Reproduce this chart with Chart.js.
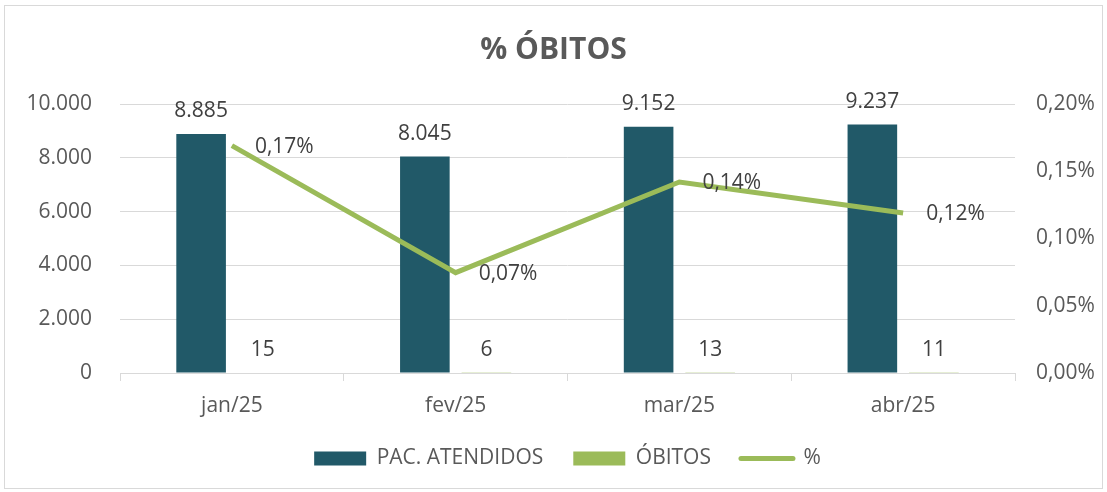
<!DOCTYPE html>
<html>
<head>
<meta charset="utf-8">
<script src="https://cdn.jsdelivr.net/npm/chart.js@4.4.1/dist/chart.umd.min.js"></script>
<style>
  body { margin: 0; background: #fff; }
  #wrap { position: relative; width: 1107px; height: 492px; }
  #frame { position: absolute; left: 4px; top: 5px; width: 1097px; height: 482px; border: 1px solid #d9d9d9; pointer-events: none; }
</style>
</head>
<body>
<div id="wrap">
  <canvas id="chart" width="1107" height="492"></canvas>
  <div id="frame"></div>
</div>
<script>
const categories = ['jan/25', 'fev/25', 'mar/25', 'abr/25'];
const atendidos = [8885, 8045, 9152, 9237];
const obitos = [15, 6, 13, 11];
const percentual = [0.169, 0.0746, 0.142, 0.119];

const fontFamily = '"Open Sans", "Noto Sans", sans-serif';
const textSize = 21;
const tealColor = '#215968';
const greenColor = '#9bbb59';

// numero com ponto de milhar
function formatThousands(v) {
  return String(Math.round(v)).replace(/\B(?=(\d{3})+(?!\d))/g, '.');
}

function formatPercent(v) {
  return v.toFixed(2).replace('.', ',') + '%';
}

// rotulos de dados desenhados a mao
const dataLabels = {
  id: 'dataLabels',
  afterDatasetsDraw(chart) {
    const ctx = chart.ctx;
    ctx.save();
    ctx.font = textSize + 'px ' + fontFamily;
    ctx.fillStyle = '#404040';
    ctx.textBaseline = 'middle';
    chart.data.datasets.forEach((ds, i) => {
      const meta = chart.getDatasetMeta(i);
      meta.data.forEach((el, j) => {
        if (ds.type === 'line') {
          ctx.textAlign = 'left';
          ctx.fillText(formatPercent(ds.data[j]), el.x + 23, el.y + 1);
        } else {
          ctx.textAlign = 'center';
          ctx.fillText(formatThousands(ds.data[j]), el.x, el.y - 23);
        }
      });
    });
    ctx.restore();
  }
};

new Chart(document.getElementById('chart'), {
  data: {
    labels: categories,
    datasets: [
      {
        type: 'line',
        label: '%',
        data: percentual,
        yAxisID: 'y2',
        borderColor: greenColor,
        backgroundColor: greenColor,
        borderWidth: 5,
        pointRadius: 0,
        tension: 0,
        order: 0
      },
      {
        type: 'bar',
        label: 'PAC. ATENDIDOS',
        data: atendidos,
        yAxisID: 'y',
        backgroundColor: tealColor,
        categoryPercentage: 0.55,
        barPercentage: 0.806,
        order: 1
      },
      {
        type: 'bar',
        label: 'ÓBITOS',
        data: obitos,
        yAxisID: 'y',
        backgroundColor: greenColor,
        categoryPercentage: 0.55,
        barPercentage: 0.806,
        order: 1
      }
    ]
  },
  options: {
    responsive: false,
    animation: false,
    layout: { padding: { top: 0, bottom: 13, left: 0, right: 0 } },
    plugins: {
      title: {
        display: true,
        text: '% ÓBITOS',
        color: '#595959',
        font: { family: fontFamily, size: 30, weight: 'bold' },
        padding: { top: 32, bottom: 36 }
      },
      legend: {
        position: 'bottom',
        fullSize: false,
        labels: {
          color: '#595959',
          font: { family: fontFamily, size: textSize },
          padding: 30,
          usePointStyle: true,
          pointStyleWidth: 52,
          boxHeight: 14,
          generateLabels(chart) {
            // ordem: barras primeiro, depois a linha
            return [1, 2, 0].map(i => {
              const ds = chart.data.datasets[i];
              const isLine = ds.type === 'line';
              return {
                text: ds.label,
                datasetIndex: i,
                fillStyle: ds.backgroundColor,
                strokeStyle: ds.backgroundColor,
                fontColor: '#595959',
                lineWidth: isLine ? 5 : 0,
                lineCap: 'round',
                pointStyle: isLine ? 'line' : 'rect',
                hidden: false
              };
            });
          }
        }
      },
      tooltip: { enabled: false }
    },
    scales: {
      x: {
        offset: true,
        grid: { drawOnChartArea: false, drawTicks: true, tickLength: 8, color: '#d9d9d9', offset: true },
        border: { color: '#d9d9d9' },
        ticks: { color: '#595959', font: { family: fontFamily, size: textSize }, padding: 12 },
        afterFit(scale) { scale.height = 45; }
      },
      y: {
        position: 'left',
        min: 0,
        max: 10000,
        ticks: {
          stepSize: 2000,
          color: '#595959',
          font: { family: fontFamily, size: textSize },
          padding: 28,
          callback: v => formatThousands(v)
        },
        grid: { color: '#d9d9d9', drawTicks: false },
        border: { display: false },
        afterFit(scale) { scale.width = 120; }
      },
      y2: {
        position: 'right',
        min: 0,
        max: 0.2,
        ticks: {
          stepSize: 0.05,
          color: '#595959',
          font: { family: fontFamily, size: textSize },
          padding: 21,
          callback: v => formatPercent(v)
        },
        grid: { display: false, drawTicks: false },
        border: { display: false },
        afterFit(scale) { scale.width = 92; }
      }
    }
  },
  plugins: [dataLabels]
});
</script>
</body>
</html>
